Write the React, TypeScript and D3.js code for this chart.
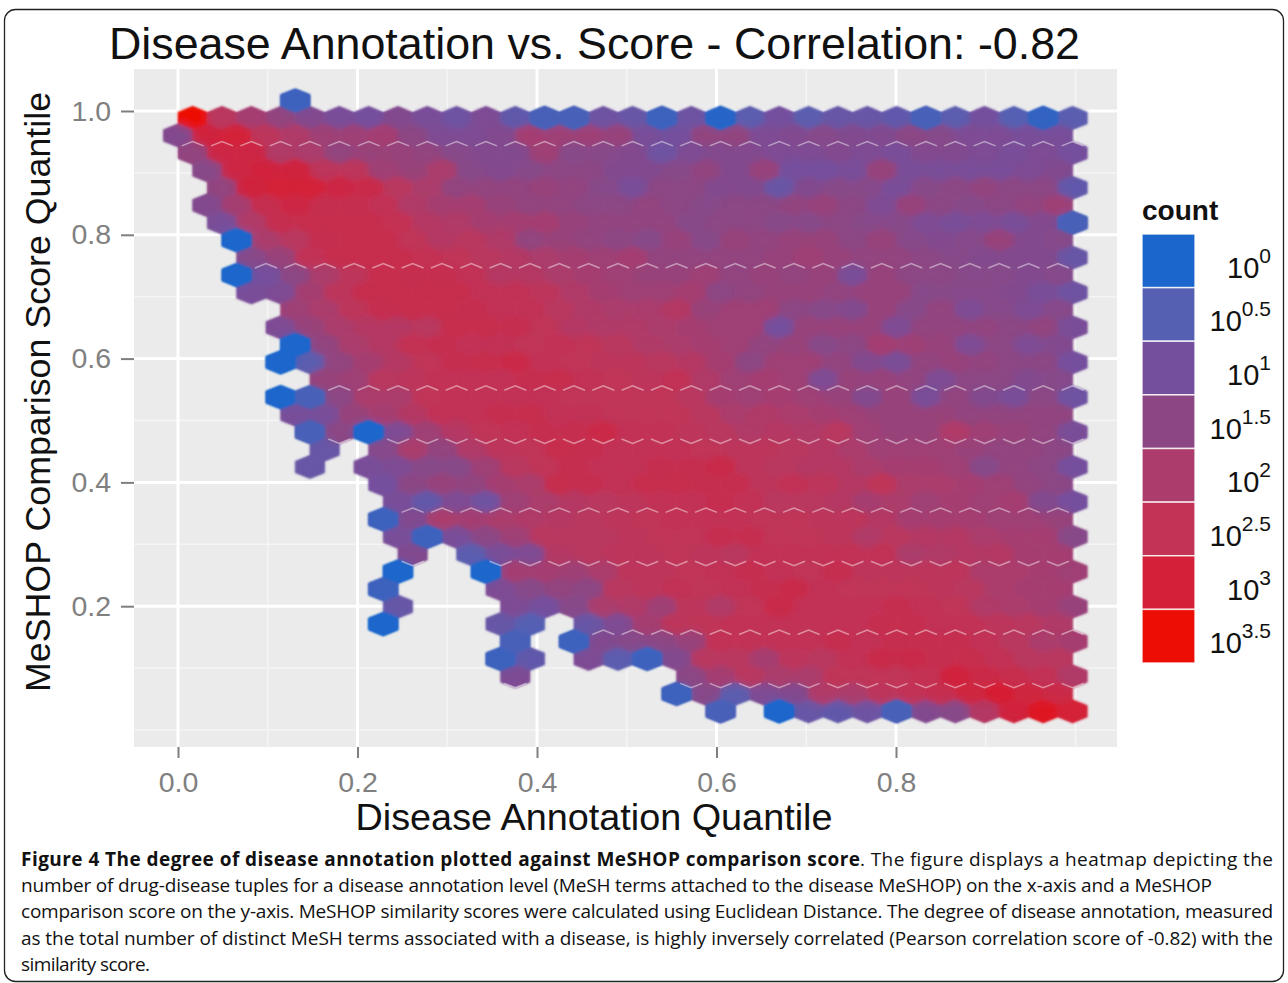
import React, { useEffect, useRef } from 'react';
import * as d3 from 'd3';

const _ = null;

// log10(count) per hex bin. Each row starts at the column in rowStarts.
const rowTop = [0.3];
const row00 = [3.5,2.3,1.9,1.6,1.3,1.1,1.0,1.3,1.1,0.9,1.2,0.7,0.4,0.4,0.9,0.8,0.3,0.9,0.1,0.6,1.0,0.6,0.8,0.8,0.7,0.4,0.6,1.0,0.5,0.2,0.6];
const row01 = [1.3,2.9,3.0,2.4,2.1,1.8,1.8,1.9,1.5,1.2,1.2,1.3,1.9,1.8,1.8,1.7,1.1,1.0,1.6,1.6,1.2,1.3,1.4,1.3,1.3,1.5,1.4,1.2,1.2,1.1,1.1];
const row02 = [1.6,2.8,2.8,2.1,2.0,1.6,1.7,1.7,1.6,1.4,1.3,1.3,1.8,1.4,1.4,1.3,0.9,1.2,1.3,1.3,1.2,1.2,1.3,1.2,1.1,1.3,1.3,1.2,1.1,1.2,1.0];
const row03 = [1.4,2.8,2.9,2.9,2.4,2.4,1.8,1.7,2.0,1.4,1.3,1.4,1.5,1.5,1.3,1.3,1.4,1.6,1.3,1.7,1.0,1.0,1.1,1.7,1.1,1.1,1.1,1.1,1.2,1.3];
const row04 = [1.6,2.9,3.0,3.0,2.8,2.7,2.3,2.0,1.6,1.6,1.6,1.7,1.6,1.4,1.1,1.5,1.5,1.3,1.3,0.8,1.3,1.4,1.4,1.1,1.4,1.5,1.6,1.5,1.5,0.7];
const row05 = [1.3,1.9,2.6,2.8,2.6,2.6,2.5,2.1,1.9,1.9,1.7,1.6,1.6,1.5,1.5,1.6,1.5,1.4,1.5,1.5,1.6,1.7,1.5,1.2,1.7,1.5,1.4,1.5,1.6,1.8];
const row06 = [1.1,2.1,2.6,2.65,2.65,2.65,2.55,2.2,2.1,1.9,1.9,1.9,1.7,1.6,1.6,1.6,1.4,1.5,1.5,1.4,1.4,1.5,1.4,1.4,1.2,1.1,1.2,1.1,1.3,0.4];
const row07 = [0,2.0,2.3,2.6,2.65,2.65,2.45,2.2,2.3,2.1,1.6,1.7,1.6,1.5,1.4,1.7,1.4,1.7,1.6,1.7,1.7,1.5,1.7,1.4,1.3,1.4,1.7,1.3,1.4];
const row08 = [1.4,1.7,2.5,2.65,2.65,2.65,2.55,2.45,2.3,2.2,2.0,1.9,1.8,1.9,1.6,1.6,1.6,1.6,1.7,1.8,1.7,1.6,1.6,1.5,1.4,1.3,1.3,1.3,0.8];
const row09 = [0,1.0,1.5,2.0,2.4,2.65,2.6,2.6,2.5,2.2,2.2,2.0,1.9,1.8,1.7,1.7,1.8,1.6,1.7,1.6,1.7,1.1,1.7,1.5,1.5,1.4,1.4,1.3,1.4];
const row10 = [1.1,1.2,1.9,2.4,2.65,2.65,2.65,2.65,2.5,2.5,2.4,2.1,1.9,1.8,1.8,1.9,1.5,1.6,1.7,1.7,1.6,1.7,1.7,1.4,1.4,1.4,1.3,1.1,0.9];
const row11 = [1.8,2.0,2.4,2.6,2.65,2.65,2.6,2.5,2.5,2.3,2.1,2.0,2.0,2.2,1.7,1.8,1.8,1.5,1.4,1.3,1.7,1.4,1.6,1.2,1.4,1.2,1.4];
const row12 = [1.2,1.7,2.0,2.2,2.2,2.3,2.65,2.65,2.6,2.45,2.2,2.1,2.1,2.0,1.9,1.8,1.8,1.0,1.7,1.7,1.7,1.2,1.6,1.6,1.6,1.5,1.6,1.1];
const row13 = [0,1.6,2.0,2.2,2.55,2.6,2.5,2.5,2.45,2.5,2.45,2.3,2.1,2.0,1.9,1.8,1.6,1.7,1.4,1.5,1.9,1.8,1.7,1.2,1.5,1.2,1.3];
const row14 = [0,0.6,1.6,1.9,2.2,2.45,2.6,2.65,2.75,2.5,2.45,2.4,2.4,2.3,2.2,1.9,1.5,1.8,1.8,1.6,1.3,1.1,1.6,1.7,1.6,1.5,1.5,1.0];
const row15 = [1.7,1.8,2.3,2.4,2.5,2.5,2.5,2.6,2.65,2.5,2.45,2.4,2.5,2.1,1.8,1.9,1.8,1.2,1.7,1.7,1.6,1.2,1.5,1.5,1.3,1.4];
const row16 = [0,0.4,1.5,2.0,2.0,2.45,2.5,2.5,2.5,2.5,2.45,2.45,2.45,2.45,2.3,1.9,1.8,1.9,1.8,1.7,1.3,1.7,1.1,1.6,1.3,1.1,1.5,0.9];
const row17 = [1.1,1.1,1.7,1.9,2.2,2.5,2.5,2.6,2.65,2.5,2.5,2.45,2.45,2.45,2.3,2.0,2.1,2.0,1.9,1.8,1.7,1.7,1.7,1.6,1.6,1.6,1.6];
const row18 = [0.4,1.5,0,1.2,1.8,2.2,2.45,2.5,2.6,2.6,2.75,2.5,2.5,2.4,2.3,2.1,2.2,2.1,2.3,1.8,1.7,1.7,2.1,1.8,1.7,1.6,1.1];
const row19 = [0.8,_,1.4,2.0,1.6,2.1,2.4,2.45,2.65,2.6,2.5,2.5,2.5,2.45,2.4,2.4,2.3,2.2,2.0,1.8,1.8,1.8,1.7,1.6,1.6,1.5];
const row20 = [0.8,_,1.1,1.2,1.4,1.4,1.8,2.3,2.45,2.6,2.5,2.5,2.6,2.6,2.7,2.4,2.3,2.2,2.2,2.0,1.9,1.9,1.8,1.4,1.6,1.5,1.0];
const row21 = [1.0,1.5,1.7,1.6,1.9,2.0,2.65,2.6,2.5,2.65,2.65,2.6,2.6,2.4,2.5,2.4,2.2,2.45,2.0,2.0,1.9,1.8,1.6,1.5];
const row22 = [1.1,0.7,1.2,0.9,1.8,2.0,2.2,2.3,2.4,2.5,2.5,2.6,2.5,2.3,2.3,2.2,1.9,2.0,1.8,1.9,1.8,1.9,1.3,1.0];
const row23 = [0.3,1.3,2.0,1.9,2.0,2.1,2.2,2.3,2.4,2.45,2.5,2.5,2.5,2.45,2.45,2.4,2.4,2.2,1.9,1.9,1.9,1.8,1.8,1.7];
const row24 = [1.1,0.3,1.1,1.5,1.8,2.3,2.3,2.3,2.4,2.45,2.45,2.6,2.6,2.45,2.45,2.4,2.1,2.3,2.2,2.2,2.0,1.9,1.9,1.4];
const row25 = [1.3,_,0.6,1.1,1.2,2.2,2.3,2.4,2.4,2.45,2.4,2.3,2.5,2.5,2.5,2.5,2.5,2.0,2.1,2.2,2.2,1.9,1.9];
const row26 = [0,_,_,0,1.9,1.9,1.8,2.0,2.4,2.4,2.45,2.5,2.6,2.5,2.45,2.6,2.4,2.4,2.4,2.4,2.0,2.0,1.9,1.8];
const row27 = [0.3,_,_,_,1.2,1.4,1.6,1.5,2.3,2.4,2.5,2.45,2.5,2.6,2.7,2.5,2.45,2.45,2.45,2.4,2.3,2.0,1.9,1.9];
const row28 = [0.8,_,_,_,1.2,1.0,1.4,2.0,2.1,1.8,2.4,2.1,2.45,2.7,2.5,2.5,2.5,2.6,2.5,2.45,2.1,2.0,1.9,1.7];
const row29 = [0,_,_,_,0.8,0.5,_,0.8,1.2,1.9,2.4,2.45,2.5,2.5,2.5,2.5,2.5,2.6,2.6,2.5,2.5,2.4,2.3,2.1];
const row30 = [0.4,_,0.3,1.3,1.4,1.5,1.7,2.5,2.5,2.5,2.5,2.6,2.5,2.6,2.6,2.6,2.5,2.3,2.0,1.9];
const row31 = [0.3,0.7,_,1.2,0.6,0.3,1.3,2.3,2.3,1.9,2.4,2.3,2.5,2.7,2.7,2.6,2.65,2.5,2.3,2.3];
const row32 = [1.2,_,_,_,_,_,1.5,1.9,2.3,2.0,2.0,2.45,2.45,2.45,2.55,2.9,2.75,2.65,2.5,2.1];
const row33 = [0.3,1.4,0.6,1.2,1.3,2.1,2.0,2.4,2.5,2.6,2.85,3.05,2.85,2.75];
const row34 = [0.4,_,0,0.8,0.7,0.9,0.4,1.3,1.4,2.2,2.9,3.2,3.0];

const hexRows = [rowTop,row00,row01,row02,row03,row04,row05,row06,row07,row08,row09,row10,row11,row12,row13,row14,row15,row16,row17,row18,row19,row20,row21,row22,row23,row24,row25,row26,row27,row28,row29,row30,row31,row32,row33,row34];
const rowStarts = [4,0,0,0,1,1,1,1,2,2,2,2,4,3,4,3,5,3,4,4,5,4,7,7,7,7,8,7,7,7,7,11,11,11,17,18];

const legendValues = [0,0.5,1,1.5,2,2.5,3,3.5];
const legendColors = ['#1a66cc','#5560b3','#744f9e','#8c4684','#ab3c6c','#c23356','#d42038','#ec0d05'];
const legendExponents = ['0','0.5','1','1.5','2','2.5','3','3.5'];

const xTicks = [0,0.2,0.4,0.6,0.8];
const yTicks = [0.2,0.4,0.6,0.8,1.0];
const xMinor = [0.1,0.3,0.5,0.7,0.9,1.0];
const yMinor = [0,0.1,0.3,0.5,0.7,0.9];

// hex grid in data units, first full row starts at column 0
const gridX0 = 0;
const gridY0 = 0.9887;
const binX = 0.03268;
const binY = 0.02819;

// rows that show a pale seam along the top or bottom edge of their hexes
const seamTop = [2,9,16,23,30];
const seamBottom = [18,25,32];

const captionBold = 'Figure 4 The degree of disease annotation plotted against MeSHOP comparison score';
const captionRest = '. The figure displays a heatmap depicting the';
const captionLines = [
  'number of drug-disease tuples for a disease annotation level (MeSH terms attached to the disease MeSHOP) on the x-axis and a MeSHOP',
  'comparison score on the y-axis. MeSHOP similarity scores were calculated using Euclidean Distance. The degree of disease annotation, measured',
  'as the total number of distinct MeSH terms associated with a disease, is highly inversely correlated (Pearson correlation score of -0.82) with the',
  'similarity score.'
];
const captionEnds = [1212,1273,1273,150];

export default function App() {
  const ref = useRef<SVGSVGElement>(null);

  useEffect(() => {
    const svg = d3.select(ref.current);
    svg.selectAll('*').remove();

    const sans = '"Liberation Sans", Arial, sans-serif';

    const xScale = d3.scaleLinear().domain([0,1]).range([178,1075.5]);
    const yScale = d3.scaleLinear().domain([0,1]).range([730,111]);
    const color = d3.scaleLinear<string>().domain(legendValues).range(legendColors).interpolate(d3.interpolateRgb);

    svg.append('rect')
      .attr('x',4.5).attr('y',9.5).attr('width',1279).attr('height',972).attr('rx',11)
      .attr('fill','#fff').attr('stroke','#222').attr('stroke-width',1.3);

    // panel and grid
    svg.append('rect').attr('x',134).attr('y',69).attr('width',983).attr('height',678).attr('fill','#ebebeb');
    const grid = svg.append('g');
    grid.selectAll('.vminor').data(xMinor).enter().append('line')
      .attr('x1',d => xScale(d)).attr('x2',d => xScale(d)).attr('y1',69).attr('y2',747)
      .attr('stroke','#f5f5f5').attr('stroke-width',1.5);
    grid.selectAll('.hminor').data(yMinor).enter().append('line')
      .attr('y1',d => yScale(d)).attr('y2',d => yScale(d)).attr('x1',134).attr('x2',1117)
      .attr('stroke','#f5f5f5').attr('stroke-width',1.5);
    grid.selectAll('.vmajor').data(xTicks).enter().append('line')
      .attr('x1',d => xScale(d)).attr('x2',d => xScale(d)).attr('y1',69).attr('y2',747)
      .attr('stroke','#fff').attr('stroke-width',3);
    grid.selectAll('.hmajor').data(yTicks).enter().append('line')
      .attr('y1',d => yScale(d)).attr('y2',d => yScale(d)).attr('x1',134).attr('x2',1117)
      .attr('stroke','#fff').attr('stroke-width',3);

    // hex bins
    const bins: {x:number,y:number,v:number,row:number}[] = [];
    hexRows.forEach((values,k) => {
      const row = k - 1;
      values.forEach((v,j) => {
        if (v === null) return;
        const col = rowStarts[k] + j;
        const shift = row % 2 === 0 ? binX/2 : 0;
        bins.push({x: gridX0 + col*binX + shift, y: gridY0 - row*binY, v, row});
      });
    });

    const hw = (xScale(binX) - xScale(0))/2;
    const hh = (yScale(0) - yScale(binY))*2/3;
    const hexLine = d3.line();
    const hexPath = d => {
      const cx = xScale(d.x), cy = yScale(d.y);
      return hexLine([[cx,cy-hh],[cx+hw,cy-hh/2],[cx+hw,cy+hh/2],[cx,cy+hh],[cx-hw,cy+hh/2],[cx-hw,cy-hh/2]]) + 'Z';
    };

    const defs = svg.append('defs');
    const addBlur = (id,dev) => defs.append('filter').attr('id',id)
      .attr('filterUnits','userSpaceOnUse').attr('x',120).attr('y',60).attr('width',1010).attr('height',700)
      .append('feGaussianBlur').attr('stdDeviation',dev);
    addBlur('soft',0.8);
    addBlur('wash',4);
    defs.append('clipPath').attr('id','hexClip')
      .selectAll('path').data(bins).enter().append('path').attr('d',hexPath);

    const drawHexes = parent => parent.selectAll('path').data(bins).enter().append('path')
      .attr('d',hexPath)
      .attr('fill',d => color(d.v))
      .attr('stroke',d => color(d.v))
      .attr('stroke-width',0.6);

    svg.append('g').attr('filter','url(#soft)').call(drawHexes);
    // the print is soft: neighbouring bins run into each other, the edge stays sharp.
    // full-strength blue bins are kept out of the wash so they stay clean
    svg.append('g').attr('clip-path','url(#hexClip)').attr('opacity',0.6)
      .append('g').attr('filter','url(#wash)').call(drawHexes);
    svg.append('g').attr('filter','url(#soft)')
      .selectAll('path').data(bins.filter(d => d.v <= 0.4)).enter().append('path')
      .attr('d',hexPath).attr('fill',d => color(d.v));

    // seams between some rows of hexes, they don't show on the low bins along the edge
    const seamLine = d3.line();
    const seams = bins.filter(d => (seamTop.includes(d.row) || seamBottom.includes(d.row)) && d.v > 0.6);
    svg.append('g').selectAll('path').data(seams).enter().append('path')
      .attr('d',d => {
        const sign = seamTop.includes(d.row) ? -1 : 1;
        const cx = xScale(d.x), cy = yScale(d.y);
        return seamLine([[cx-hw*0.75,cy+sign*hh*0.6],[cx,cy+sign*hh*0.98],[cx+hw*0.75,cy+sign*hh*0.6]]);
      })
      .attr('fill','none').attr('stroke','#fff').attr('stroke-opacity',0.45).attr('stroke-width',1.5);

    // axes
    const xAxis = svg.append('g').attr('transform','translate(0,747)')
      .call(d3.axisBottom(xScale).tickValues(xTicks).tickFormat(d3.format('.1f')).tickSize(11).tickPadding(14));
    const yAxis = svg.append('g').attr('transform','translate(134,0)')
      .call(d3.axisLeft(yScale).tickValues(yTicks).tickFormat(d3.format('.1f')).tickSize(13).tickPadding(10));
    [xAxis,yAxis].forEach(axis => {
      axis.select('.domain').remove();
      axis.selectAll('line').attr('stroke','#7f7f7f').attr('stroke-width',2);
      axis.selectAll('text').attr('fill','#808080').style('font-family',sans).style('font-size','28.5px');
    });

    // titles
    svg.append('text').attr('x',594.5).attr('y',59).attr('text-anchor','middle')
      .style('font-family',sans).style('font-size','44.8px').attr('fill','#111')
      .text('Disease Annotation vs. Score - Correlation: -0.82');
    svg.append('text').attr('x',594).attr('y',830).attr('text-anchor','middle')
      .style('font-family',sans).style('font-size','37.8px').attr('fill','#111')
      .text('Disease Annotation Quantile');
    svg.append('text').attr('transform','translate(50,392) rotate(-90)').attr('text-anchor','middle')
      .style('font-family',sans).style('font-size','35.8px').attr('fill','#111')
      .text('MeSHOP Comparison Score Quantile');

    // legend
    const legendY = d3.scaleBand<number>().domain(legendValues).range([234,663]);
    svg.append('text').attr('x',1142).attr('y',220)
      .style('font-family',sans).style('font-size','28px').style('font-weight','bold').attr('fill','#111')
      .text('count');
    svg.append('g').selectAll('rect').data(legendValues).enter().append('rect')
      .attr('x',1142).attr('width',53)
      .attr('y',d => legendY(d)).attr('height',legendY.bandwidth())
      .attr('fill',d => color(d))
      .attr('stroke','#fff').attr('stroke-opacity',0.8).attr('stroke-width',1.5);
    const labels = svg.append('g').selectAll('text').data(legendValues).enter().append('text')
      .attr('x',1271).attr('y',d => legendY(d) + legendY.bandwidth()/2 + 17)
      .attr('text-anchor','end')
      .style('font-family',sans).style('font-size','29px').attr('fill','#111');
    labels.append('tspan').text('10');
    labels.append('tspan').attr('dy',-15).style('font-size','21px').text((d,i) => legendExponents[i]);

    // caption
    const cap = svg.append('g').style('font-family','"Open Sans", sans-serif').style('font-size','19px').attr('fill','#111');
    cap.append('text').attr('x',21).attr('y',866).attr('textLength',839).attr('lengthAdjust','spacing')
      .style('font-weight','bold').text(captionBold);
    cap.append('text').attr('x',860).attr('y',866).attr('textLength',413).attr('lengthAdjust','spacing')
      .text(captionRest);
    cap.selectAll('.line').data(captionLines).enter().append('text')
      .attr('x',21).attr('y',(d,i) => 892 + i*26.3)
      .attr('textLength',(d,i) => captionEnds[i] - 21).attr('lengthAdjust','spacing')
      .text(d => d);
  }, []);

  return <svg ref={ref} width={1288} height={983} style={{position:'absolute',left:0,top:0,background:'#fff'}} />;
}
